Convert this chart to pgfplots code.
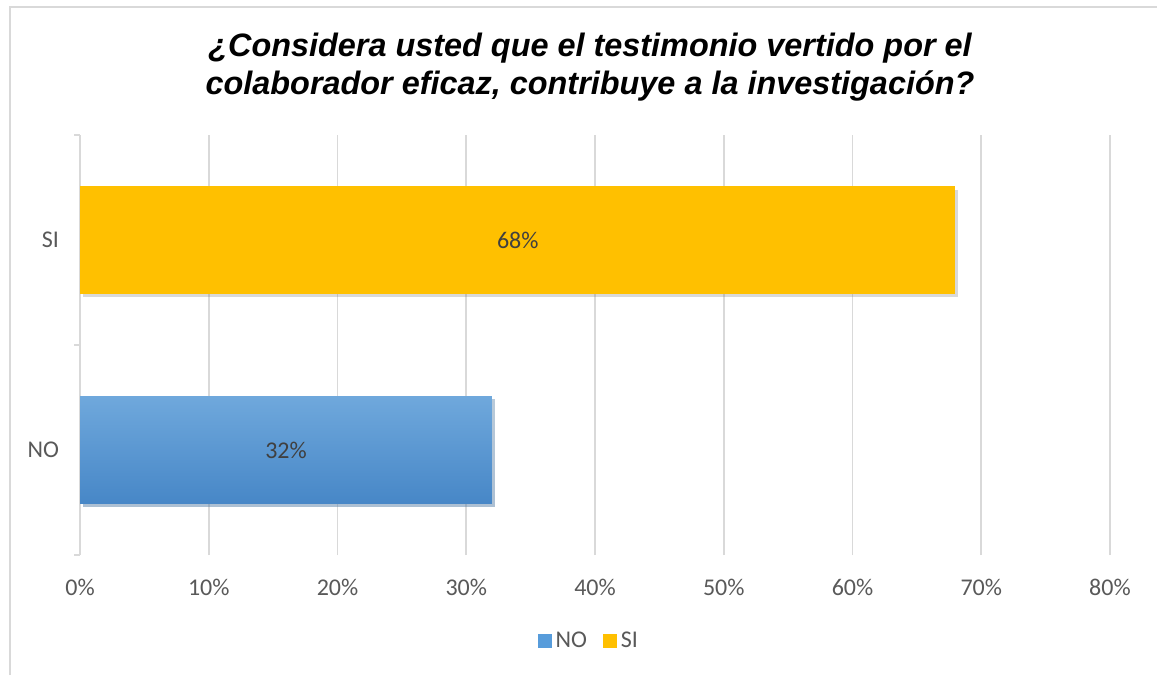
\documentclass[border=0pt]{standalone}
\usepackage{fontspec}
\setmainfont{Carlito}
\newfontfamily\titlefont{Liberation Sans}
\usepackage{pgfplots}
\pgfplotsset{compat=1.18}
\usetikzlibrary{shadows}

\definecolor{gridgray}{HTML}{D9D9D9}
\definecolor{ticktext}{HTML}{595959}
\definecolor{labeltext}{HTML}{404040}
\definecolor{siyellow}{HTML}{FFC000}
\definecolor{notop}{HTML}{6FA8DC}
\definecolor{nomid}{HTML}{579CDB}
\definecolor{nobot}{HTML}{4787C7}

\begin{document}
\begin{tikzpicture}
\useasboundingbox (0,0) rectangle (578.5pt,337.5pt);
% outer chart frame (only left and top edges are visible)
\draw[gridgray, line width=0.8pt] (5pt,0pt) -- (5pt,334pt) -- (578.5pt,334pt);

\node[font=\titlefont\bfseries\itshape\fontsize{16.2}{19}\selectfont, align=center]
  at (295pt,304pt) {¿Considera usted que el testimonio vertido por el\\colaborador eficaz, contribuye a la investigación?};

\begin{axis}[
    at={(40pt,60pt)}, anchor=south west,
    width=515pt, height=210pt, scale only axis,
    xmin=0, xmax=80,
    ymin=-0.5, ymax=1.5,
    xtick={0,10,...,80},
    xticklabel={\pgfmathprintnumber{\tick}\%},
    ytick={0,1},
    yticklabels={NO,SI},
    minor ytick={-0.5,0.5,1.5},
    major tick length=0pt,
    minor tick length=3pt,
    tick align=outside,
    tick style={gridgray, line width=0.9pt},
    axis lines*=left,
    axis line style={-},
    x axis line style={draw=none},
    y axis line style={gridgray, line width=0.9pt},
    xmajorgrids,
    grid style={gridgray, line width=0.9pt},
    ticklabel style={font=\fontsize{12}{14}\selectfont, text=ticktext},
    /pgf/number format/assume math mode=true,
    xticklabel style={yshift=-8.5pt},
    yticklabel style={xshift=-7pt},
    legend style={draw=none, at={(0.495,-0.205)}, anchor=center,
        legend columns=-1, font=\fontsize{12}{14}\selectfont, text=ticktext,
        /tikz/every even column/.append style={column sep=6pt}},
    legend cell align=left,
    visualization depends on=rawx \as \rawx,
    nodes near coords style={anchor=center, font=\fontsize{12}{14}\selectfont,
        text=labeltext, shift={(axis direction cs:-\rawx/2,0)}},
]
\addplot[xbar, bar width=53.5pt, bar shift=0pt, draw=none, forget plot,
    top color=notop, middle color=nomid, bottom color=nobot,
    drop shadow={shadow xshift=1.5pt, shadow yshift=-1.5pt, opacity=0.3},
    nodes near coords={\pgfmathprintnumber{\pgfplotspointmeta}\%},
    point meta=rawx]
    coordinates {(32,0)};
\addplot[xbar, bar width=53.5pt, bar shift=0pt, draw=none, forget plot, fill=siyellow,
    drop shadow={shadow xshift=1.5pt, shadow yshift=-1.5pt, opacity=0.3},
    nodes near coords={\pgfmathprintnumber{\pgfplotspointmeta}\%},
    point meta=rawx]
    coordinates {(68,1)};

\addlegendimage{legend image code/.code={\fill[nomid] (0pt,-3pt) rectangle (6.5pt,3.5pt);}}
\addlegendentry{NO}
\addlegendimage{legend image code/.code={\fill[siyellow] (0pt,-3pt) rectangle (6.5pt,3.5pt);}}
\addlegendentry{SI}
\end{axis}
\end{tikzpicture}
\end{document}
